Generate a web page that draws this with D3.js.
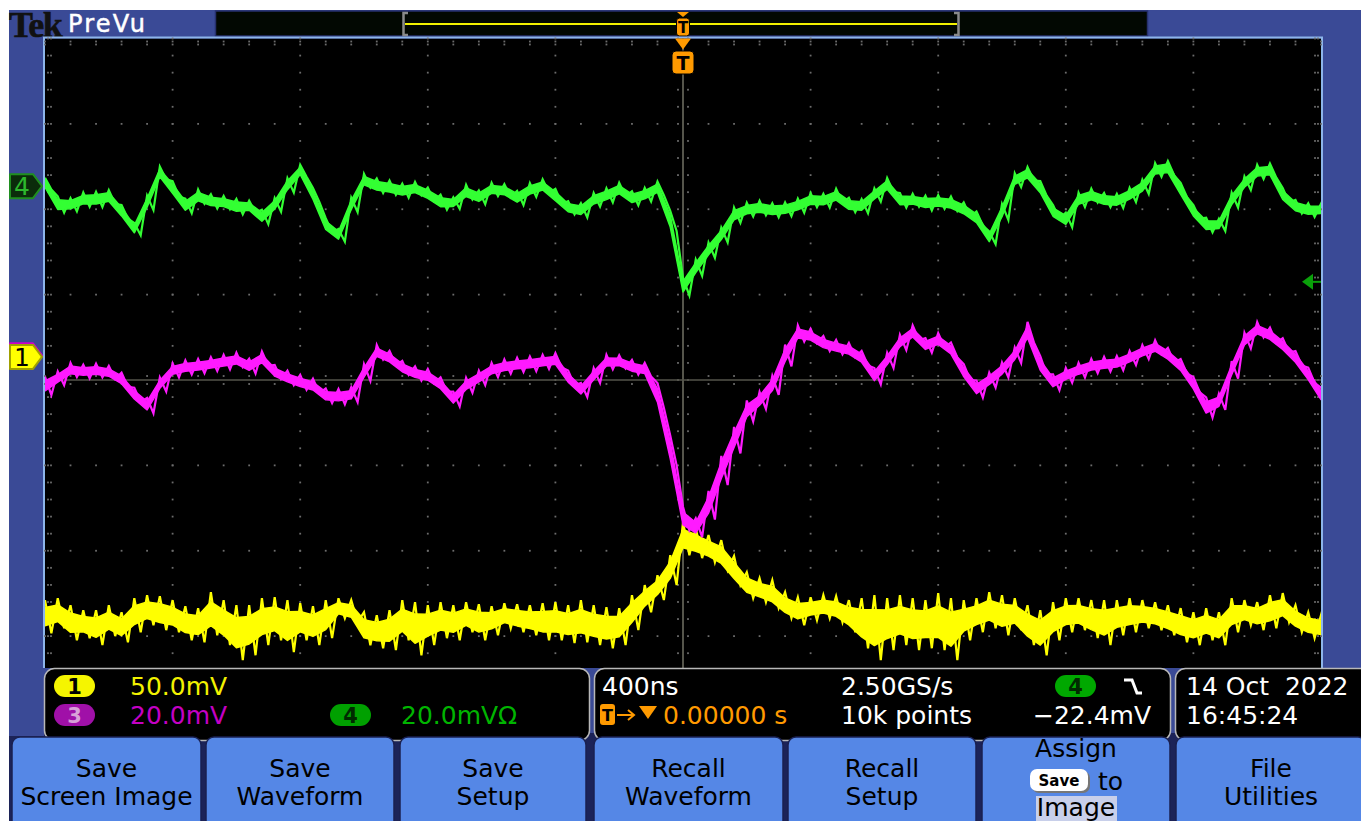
<!DOCTYPE html>
<html>
<head>
<meta charset="utf-8">
<script src="https://cdn.jsdelivr.net/npm/d3@7"></script>
<style>
  html, body { margin: 0; padding: 0; background: #ffffff; }
  svg { display: block; }
  text { font-family: "DejaVu Sans", "Verdana", sans-serif; white-space: pre; }
</style>
</head>
<body>
<svg id="scope" width="1361" height="821"></svg>
<script>
// ---- Acquisition: 400 ns/div over 10 divisions, peak-detect min/max per 40 ns bin ----
const timeNs = d3.range(-2000, 2001, 40);

// Channel 1 (yellow), mV
const ch1Max = [
  -142.4,-141.3,-145.4,-148.3,-148.3,-145.4,-149.5,-141.3,-139.5,-140.1,
  -142.4,-146.0,-147.1,-137.7,-142.4,-145.4,-145.4,-141.3,-140.7,-142.4,
  -144.2,-146.0,-142.4,-141.3,-142.4,-149.5,-151.2,-148.3,-142.4,-143.6,
  -145.4,-143.6,-145.4,-143.6,-144.8,-146.0,-144.2,-144.8,-145.4,-144.2,
  -143.6,-145.4,-142.4,-145.4,-146.5,-147.1,-139.5,-133.6,-127.8,-116.1,
  -96.7,-100.2,-104.3,-107.3,-116.6,-126.0,-129.5,-130.7,-137.7,-140.7,
  -140.7,-139.5,-140.1,-142.4,-141.3,-139.5,-141.3,-139.5,-141.3,-142.4,
  -138.3,-141.3,-142.4,-141.3,-137.7,-139.5,-141.3,-145.4,-148.3,-143.6,
  -141.3,-141.3,-142.4,-142.4,-142.4,-141.3,-142.4,-143.6,-145.4,-147.1,
  -149.5,-147.1,-149.5,-141.3,-142.4,-143.6,-139.5,-138.3,-145.4,-149.5,
  -151.2
];
const ch1Min = [
  -161.8,-158.9,-165.9,-164.7,-168.8,-163.5,-167.1,-161.2,-157.1,-160.0,
  -161.2,-165.9,-167.1,-163.0,-168.8,-177.6,-174.7,-168.8,-165.9,-172.9,
  -165.9,-168.8,-164.7,-153.0,-155.3,-168.8,-170.6,-171.7,-165.9,-174.7,
  -168.8,-164.7,-165.9,-161.2,-165.9,-163.0,-158.9,-161.2,-163.0,-165.9,
  -165.9,-167.6,-167.1,-168.8,-170.6,-168.8,-160.0,-149.5,-142.4,-133.6,
  -116.1,-117.8,-120.2,-124.9,-133.6,-141.3,-143.6,-147.1,-153.0,-157.1,
  -154.2,-153.0,-155.3,-161.2,-170.6,-177.6,-171.7,-168.8,-171.7,-170.6,
  -171.7,-177.6,-165.9,-161.2,-158.9,-163.0,-160.0,-168.8,-174.7,-165.9,
  -161.2,-160.0,-164.7,-168.8,-163.0,-161.2,-158.9,-160.0,-163.0,-167.1,
  -168.8,-165.9,-168.8,-161.2,-157.1,-160.0,-158.9,-155.3,-161.2,-164.7,
  -165.9
];

// Channel 3 (magenta), mV
const ch3Max = [
  -5.0,-3.8,-1.8,-2.2,-2.0,-2.5,-4.1,-7.6,-10.0,-5.2,
  -1.9,-1.2,-0.9,-0.5,0.1,0.6,-0.8,0.9,-2.3,-3.6,
  -4.6,-5.5,-7.8,-7.9,-7.5,-2.1,2.4,1.0,-1.3,-2.6,
  -3.2,-5.2,-8.5,-5.3,-3.6,-1.8,-1.0,-0.6,-0.3,0.1,
  0.5,-3.6,-6.5,-3.0,0.1,0.0,-1.1,-1.8,-6.5,-18.8,
  -35.5,-38.2,-31.8,-23.6,-16.8,-10.6,-8.6,-4.8,2.5,7.0,
  6.2,4.5,3.6,2.9,1.0,-3.0,0.6,4.8,7.0,4.0,
  5.2,3.0,-2.1,-5.9,-4.1,-1.7,1.8,7.8,-0.2,-4.5,
  -3.0,-1.8,-0.9,-0.4,-0.2,1.0,2.4,3.5,1.7,-0.9,
  -5.1,-9.9,-9.0,-1.4,5.3,7.8,6.5,4.0,1.0,-2.9,
  -7.6
];
const ch3Min = [
  -9.3,-7.0,-5.1,-5.4,-5.2,-5.6,-7.4,-11.0,-13.6,-8.5,
  -5.2,-4.5,-4.2,-3.7,-3.3,-2.8,-4.3,-2.5,-5.6,-7.0,
  -8.1,-8.9,-11.2,-11.5,-11.0,-6.0,-1.0,-2.3,-4.6,-5.9,
  -6.6,-8.6,-12.0,-8.8,-7.0,-5.1,-4.3,-3.9,-3.7,-3.2,
  -2.9,-7.1,-9.8,-6.5,-3.3,-3.1,-4.5,-5.0,-12.3,-25.8,
  -41.0,-42.6,-38.5,-30.4,-23.0,-15.5,-12.6,-9.3,-2.6,3.2,
  2.8,1.0,0.2,-0.5,-2.4,-6.8,-3.0,1.2,3.5,0.6,
  1.8,-0.5,-5.8,-9.9,-7.6,-5.2,-1.8,3.0,-4.5,-8.2,
  -6.4,-5.2,-4.2,-3.8,-3.5,-2.3,-0.9,0.2,-1.7,-4.3,
  -8.7,-14.6,-12.8,-5.5,1.6,4.2,2.9,0.6,-2.4,-6.5,
  -11.2
];

// Channel 4 (green), mV
const ch4Max = [
  2.0,-2.4,-2.8,-1.5,-1.3,-0.9,-4.4,-8.6,-2.2,4.6,
  1.2,-2.9,-0.8,-1.9,-2.3,-3.0,-3.4,-5.5,-2.8,1.9,
  5.0,-0.4,-7.5,-10.0,-2.7,2.9,1.8,1.3,0.6,1.0,
  -0.3,-2.0,-2.6,0.3,-1.0,0.8,0.5,-1.1,0.7,1.6,
  -0.6,-3.5,-4.0,-1.6,-0.5,0.8,-1.2,-0.4,1.1,-5.8,
  -21.5,-17.2,-13.2,-9.7,-5.0,-3.9,-3.4,-4.0,-3.8,-2.9,
  -1.6,-1.8,-0.6,-2.7,-3.0,-0.5,1.9,-1.6,-1.8,-2.2,
  -2.1,-2.4,-3.8,-5.9,-10.6,-4.2,3.0,4.5,1.2,-4.4,
  -6.2,-1.5,-0.6,-1.6,-1.8,-0.4,1.5,5.4,5.9,0.8,
  -4.4,-7.4,-7.6,-1.5,2.3,5.0,5.3,-0.4,-3.2,-4.0,
  -4.1
];
const ch4Min = [
  -0.8,-6.2,-5.9,-4.8,-4.9,-4.2,-7.6,-11.5,-5.6,1.6,
  -2.4,-6.3,-4.1,-5.2,-5.4,-6.6,-6.2,-8.9,-6.0,-1.5,
  2.2,-3.7,-10.8,-13.0,-6.1,-0.3,-1.6,-2.0,-2.7,-2.1,
  -3.5,-5.5,-5.3,-3.1,-4.2,-2.3,-2.6,-4.4,-2.5,-1.5,
  -4.1,-6.6,-7.3,-4.8,-3.8,-2.4,-4.5,-3.6,-2.1,-10.5,
  -25.6,-21.0,-16.8,-13.2,-8.6,-7.1,-6.8,-7.3,-7.0,-6.2,
  -4.9,-5.0,-3.9,-6.1,-6.3,-3.6,-1.4,-5.0,-4.8,-5.7,
  -5.3,-5.8,-7.1,-9.2,-13.6,-7.9,-0.2,1.3,-2.2,-7.7,
  -9.6,-4.9,-3.8,-4.9,-5.1,-3.7,-1.8,2.2,2.5,-2.6,
  -7.6,-10.8,-10.5,-5.0,-0.9,1.7,2.0,-3.8,-6.4,-7.2,
  -7.0
];

// ---- Scope settings and readouts ----
const voltsPerDiv = { ch1: 50, ch3: 20, ch4: 20 };        // mV/div
const groundDiv   = { ch1: 0.27, ch3: 0.29, ch4: 2.27 };  // ground marker, divisions from centre
const triggerLevelMv = -22.4;                             // ch4, falling edge
const scaleLabels = ["50.0mV", "20.0mV", "20.0mVΩ"];
const timebaseLabel = "400ns";
const sampleRateLabel = "2.50GS/s";
const recordLabel = "10k points";
const triggerLabel = "−22.4mV";
const delayLabel = "0.00000 s";
const dateLabel = "14 Oct  2022";
const clockLabel = "16:45:24";
const buttonLabels = [
  ["Save", "Screen Image"], ["Save", "Waveform"], ["Save", "Setup"],
  ["Recall", "Waveform"], ["Recall", "Setup"], ["Assign", "to", "Image"],
  ["File", "Utilities"]
];

// ---- Colours ----
const PANEL = "#3a4a96", FRAME = "#8db5ea", NAVY = "#1c2358", BTN = "#5587e6";
const YEL = "#ffff00", MAG = "#ff1aff", GRN = "#33ff33", ORANGE = "#ff9a00";

const W = 1361, H = 821;
const svg = d3.select("#scope");

// Scales: time (ns) across 10 divisions, vertical in divisions (8 div, centre = 0)
const x = d3.scaleLinear().domain([-2000, 2000]).range([45, 1321]);
const yDiv = d3.scaleLinear().domain([-4, 4]).range([721.5, 38.5]);
const gx0 = x(-2000), gx1 = x(2000), gy0 = yDiv(4), gyVis = 668;

// ---- Bezel ----
svg.append("rect").attr("width", W).attr("height", H).attr("fill", "#ffffff");
svg.append("rect").attr("x", 9).attr("y", 10).attr("width", W - 9).attr("height", 728).attr("fill", PANEL);
svg.append("rect").attr("x", 9).attr("y", 733).attr("width", W - 9).attr("height", H - 733).attr("fill", NAVY);

// Header: logo and mode
svg.append("text").attr("x", 9).attr("y", 37)
  .style("font-family", "'Liberation Serif', serif").style("font-weight", "bold")
  .style("font-size", "36px").style("letter-spacing", "-1.5px").attr("fill", "#111")
  .attr("stroke", "#111").attr("stroke-width", 0.6).text("Tek");
svg.append("text").attr("x", 68).attr("y", 32).style("font-size", "24px")
  .style("letter-spacing", "2.2px").attr("fill", "#ffffff")
  .attr("stroke", "#ffffff").attr("stroke-width", 0.5).text("PreVu");

// Record view bar
svg.append("rect").attr("x", 215.5).attr("y", 11).attr("width", 932).attr("height", 25)
  .attr("fill", "#020802").attr("stroke", "#27306e").attr("stroke-width", 1.5);
svg.append("line").attr("x1", 405).attr("x2", 957).attr("y1", 24).attr("y2", 24)
  .attr("stroke", "#f2f200").attr("stroke-width", 2);
svg.append("path").attr("d", "M408,13 H403.5 V35 H408").attr("fill", "none").attr("stroke", "#8a8a8a").attr("stroke-width", 2.5);
svg.append("path").attr("d", "M954,13 H958.5 V35 H954").attr("fill", "none").attr("stroke", "#8a8a8a").attr("stroke-width", 2.5);
// trigger position in record view
svg.append("path").attr("d", `M${x(0) - 6},12 H${x(0) + 6} L${x(0)},17 Z`).attr("fill", ORANGE);
svg.append("rect").attr("x", x(0) - 6.5).attr("y", 18).attr("width", 13).attr("height", 18).attr("rx", 3)
  .attr("fill", ORANGE).attr("stroke", "#000").attr("stroke-width", 1);
svg.append("text").attr("x", x(0)).attr("y", 33).attr("text-anchor", "middle")
  .style("font-size", "15px").style("font-weight", "bold").attr("fill", "#000").text("T");

// ---- Graticule ----
svg.append("rect").attr("x", gx0).attr("y", gy0).attr("width", gx1 - gx0).attr("height", gyVis - gy0).attr("fill", "#000");
svg.append("path").attr("d", `M${gx0 - 1},${gyVis} V${gy0 - 1} H${gx1 + 1} V${gyVis}`)
  .attr("fill", "none").attr("stroke", FRAME).attr("stroke-width", 2);

const grid = svg.append("g").attr("fill", "#6c6c6c");
const dot = (cx, cy) => grid.append("rect").attr("x", cx - 0.9).attr("y", cy - 0.9).attr("width", 1.8).attr("height", 1.8);
const minorT = d3.range(-2000, 2001, 80);
const minorV = d3.range(-20, 21).map(k => k / 5);
const majorT = d3.range(-1600, 1601, 400).filter(t => t !== 0);
const majorV = [-3, -2, -1, 1, 2, 3];
majorT.forEach(t => minorV.forEach(v => { if (yDiv(v) < gyVis) dot(x(t), yDiv(v)); }));
majorV.forEach(v => { if (yDiv(v) < gyVis) minorT.forEach(t => dot(x(t), yDiv(v))); });
// centre cross-hair
svg.append("line").attr("x1", gx0).attr("x2", gx1).attr("y1", yDiv(0)).attr("y2", yDiv(0))
  .attr("stroke", "#55554b").attr("stroke-width", 1.6);
svg.append("line").attr("x1", x(0)).attr("x2", x(0)).attr("y1", gy0).attr("y2", gyVis)
  .attr("stroke", "#55554b").attr("stroke-width", 2);
minorV.forEach(v => { if (yDiv(v) < gyVis) { dot(x(0) - 5, yDiv(v)); dot(x(0) + 5, yDiv(v)); } });
minorT.forEach(t => { dot(x(t), yDiv(0) - 4); dot(x(t), yDiv(0) + 4); });
// edge ticks
minorT.forEach(t => { dot(x(t), gy0 + 3); dot(x(t), gy0 + 6); });
minorV.forEach(v => {
  if (yDiv(v) < gyVis) { dot(gx0 + 3, yDiv(v)); dot(gx0 + 6, yDiv(v)); dot(gx1 - 3, yDiv(v)); dot(gx1 - 6, yDiv(v)); }
});

// ---- Traces: solid band for the dense core, zig-zag between the peaks for the noise ----
svg.append("clipPath").attr("id", "screen").append("rect")
  .attr("x", gx0).attr("y", gy0).attr("width", gx1 - gx0).attr("height", gyVis - gy0);
const traces = svg.append("g").attr("clip-path", "url(#screen)");
const line = d3.line();

function drawTrace(maxArr, minArr, ch, color, coreFrac, minCore) {
  const y = mv => yDiv(groundDiv[ch] + mv / voltsPerDiv[ch]);
  const rows = timeNs.map((t, i) => {
    const mid = y((maxArr[i] + minArr[i]) / 2);
    const half = Math.max(minCore, (y(minArr[i]) - y(maxArr[i])) * coreFrac) / 2;
    return { px: x(t), top: mid - half, bot: mid + half };
  });
  const band = d3.area().x(d => d.px).y0(d => d.bot).y1(d => d.top);
  traces.append("path").attr("d", band(rows)).attr("fill", color)
    .attr("stroke", color).attr("stroke-width", 1.5).attr("stroke-linejoin", "round");
  const spikes = [];
  timeNs.forEach((t, i) => { spikes.push([x(t), y(maxArr[i])]); spikes.push([x(t + 20), y(minArr[i])]); });
  traces.append("path").attr("d", line(spikes)).attr("fill", "none").attr("stroke", color)
    .attr("stroke-width", 2.2);
}
drawTrace(ch1Max, ch1Min, "ch1", YEL, 0.55, 10);
drawTrace(ch3Max, ch3Min, "ch3", MAG, 0.55, 6);
drawTrace(ch4Max, ch4Min, "ch4", GRN, 0.6, 6);

// trigger position marker below the top edge
svg.append("path").attr("d", `M${x(0) - 8},${gy0} H${x(0) + 8} L${x(0)},${gy0 + 11} Z`).attr("fill", ORANGE);
svg.append("rect").attr("x", x(0) - 11).attr("y", 51).attr("width", 22).attr("height", 23).attr("rx", 4)
  .attr("fill", ORANGE).attr("stroke", "#000").attr("stroke-width", 1);
svg.append("text").attr("x", x(0)).attr("y", 70).attr("text-anchor", "middle")
  .style("font-size", "19px").style("font-weight", "bold").attr("fill", "#000").text("T");

// trigger level (ch4) on the right edge
const trigY = yDiv(groundDiv.ch4 + triggerLevelMv / voltsPerDiv.ch4);
svg.append("path").attr("d", `M${gx1 - 19},${trigY} L${gx1 - 8},${trigY - 8} V${trigY + 8} Z`).attr("fill", "#0aa00a");
svg.append("line").attr("x1", gx1 - 9).attr("x2", gx1).attr("y1", trigY).attr("y2", trigY)
  .attr("stroke", "#0aa00a").attr("stroke-width", 2);

// ground markers on the left
function groundMarker(ch, fill, stroke, label, textColor) {
  const cy = yDiv(groundDiv[ch]);
  svg.append("path").attr("d", `M10,${cy - 12} H33 L42,${cy} L33,${cy + 12} H10 Z`)
    .attr("fill", fill).attr("stroke", stroke).attr("stroke-width", 2).attr("stroke-linejoin", "round");
  if (label) svg.append("text").attr("x", 22).attr("y", cy + 9).attr("text-anchor", "middle")
    .style("font-size", "25px").attr("fill", textColor).text(label);
}
groundMarker("ch3", "#cc00cc", "#cc00cc", null, null);
groundMarker("ch1", "#ffff00", "#a0a000", "1", "#000");
groundMarker("ch4", "#0b2c0b", "#1f8f1f", "4", "#2db82d");

// ---- Readout panel ----
const rd = svg.append("g");
rd.append("rect").attr("x", 9).attr("y", 668).attr("width", 35).attr("height", 68).attr("fill", PANEL);
[[44.5, 545], [594.5, 576], [1175.5, 200]].forEach(([bx, bw]) =>
  rd.append("rect").attr("x", bx).attr("y", 668.5).attr("width", bw).attr("height", 72).attr("rx", 10)
    .attr("fill", "#000").attr("stroke", "#b8b8b8").attr("stroke-width", 1.5));

const row1 = 695, row2 = 724;
function pill(px, py, fill, label, textColor) {
  rd.append("rect").attr("x", px).attr("y", py).attr("width", 41).attr("height", 22).attr("rx", 11).attr("fill", fill);
  rd.append("text").attr("x", px + 20.5).attr("y", py + 19).attr("text-anchor", "middle")
    .style("font-size", "21px").style("font-weight", "bold").attr("fill", textColor).text(label);
}
function readout(tx, ty, str, color) {
  rd.append("text").attr("x", tx).attr("y", ty).style("font-size", "25px").attr("fill", color).text(str);
}
pill(54, 675, "#f5f500", "1", "#000");
readout(130, row1, scaleLabels[0], "#f2f200");
pill(54, 704, "#a010a8", "3", "#d8a0d8");
readout(130, row2, scaleLabels[1], "#c400c4");
pill(330, 704, "#00a000", "4", "#002a00");
readout(401, row2, scaleLabels[2], "#00b400");

readout(602, row1, timebaseLabel, "#ffffff");
readout(841, row1, sampleRateLabel, "#ffffff");
pill(1055, 675, "#00a800", "4", "#002a00");
rd.append("path").attr("d", "M1124,680 H1132 L1137,693 H1142").attr("fill", "none")
  .attr("stroke", "#ffffff").attr("stroke-width", 3);
rd.append("rect").attr("x", 600).attr("y", 704).attr("width", 15).attr("height", 21).attr("rx", 3).attr("fill", ORANGE);
rd.append("text").attr("x", 607.5).attr("y", 721).attr("text-anchor", "middle")
  .style("font-size", "16px").style("font-weight", "bold").attr("fill", "#000").text("T");
rd.append("path").attr("d", "M617,715 H633 M628,710 L634,715 L628,720").attr("fill", "none")
  .attr("stroke", ORANGE).attr("stroke-width", 2);
rd.append("path").attr("d", "M639,706 H657 L648,719 Z").attr("fill", ORANGE);
readout(663, row2, delayLabel, ORANGE);
readout(841, row2, recordLabel, "#ffffff");
readout(1033, row2, triggerLabel, "#ffffff");
readout(1186, row1, dateLabel, "#ffffff");
readout(1186, row2, clockLabel, "#ffffff");

// ---- Soft buttons ----
const btnX = [12, 206, 400, 594, 788, 982, 1176];
const btnW = [189, 188, 186, 189, 188, 188, 190];
const bt = svg.append("g");
buttonLabels.forEach((lab, i) => {
  const bx = btnX[i], bw = btnW[i], cx = bx + bw / 2;
  bt.append("rect").attr("x", bx).attr("y", 737).attr("width", bw).attr("height", 100).attr("rx", 8)
    .attr("fill", BTN).attr("stroke", "#1a2050").attr("stroke-width", 1.5);
  const tx = (str, ty, anchor = "middle", xx = cx) => bt.append("text").attr("x", xx).attr("y", ty)
    .attr("text-anchor", anchor).style("font-size", "25px").attr("fill", "#000").text(str);
  if (lab.length === 2) {
    tx(lab[0], 777);
    tx(lab[1], 805);
  } else {
    tx(lab[0], 757);
    bt.append("rect").attr("x", 1032).attr("y", 771).attr("width", 58).attr("height", 22).attr("rx", 7).attr("fill", "#777");
    bt.append("rect").attr("x", 1030).attr("y", 769).attr("width", 58).attr("height", 22).attr("rx", 7).attr("fill", "#ffffff");
    bt.append("text").attr("x", 1059).attr("y", 786).attr("text-anchor", "middle")
      .style("font-size", "15px").style("font-weight", "bold").attr("fill", "#000").text("Save");
    tx(lab[1], 790, "start", 1098);
    bt.append("rect").attr("x", 1036).attr("y", 796).attr("width", 81).attr("height", 26).attr("fill", "#c8cfea");
    tx(lab[2], 816);
  }
});
</script>
</body>
</html>
